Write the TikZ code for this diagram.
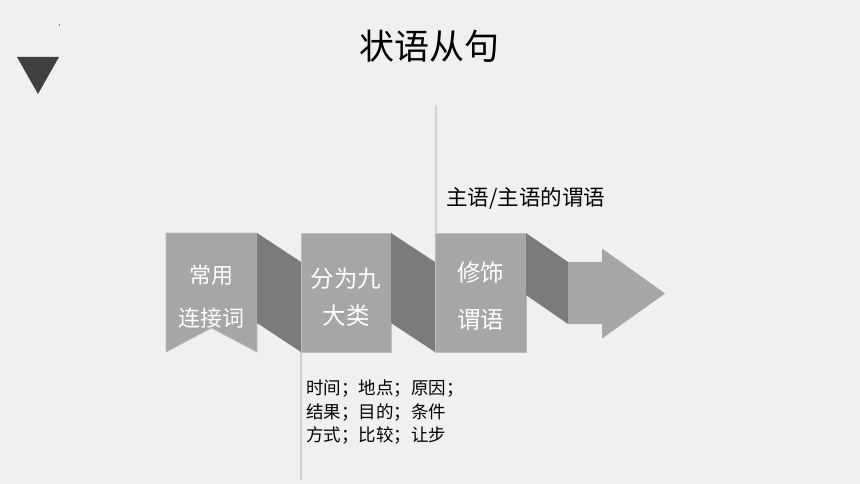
\documentclass[tikz,border=0pt]{standalone}
\usepackage{fontspec}
\setmainfont{Noto Sans CJK SC}
\usetikzlibrary{positioning}

\definecolor{bakgrund}{HTML}{F0F0F0}
\definecolor{ljusgra}{HTML}{A6A6A6}
\definecolor{morkgra}{HTML}{7B7B7B}
\definecolor{triangelgra}{HTML}{404040}
\definecolor{linjegra}{HTML}{D2D2D2}

\begin{document}
\begin{tikzpicture}[x=1pt, y=-1pt,
		ruta/.style={fill=ljusgra, draw=ljusgra!75!white, line width=0.8pt},
		veck/.style={fill=morkgra},
		hjalplinje/.style={draw=linjegra, line width=1.3pt},
		rutatext/.style={text=white, inner sep=0pt, font=\fontsize{23.5}{28}\selectfont},
		listtext/.style={anchor=base west, inner sep=0pt, font=\fontsize{17.5}{21}\selectfont}]
		\fill[bakgrund] (0, 0) rectangle (860, 484); % Bakgrunden
		\useasboundingbox (0, 0) rectangle (860, 484);
		
		\fill[triangelgra] (17, 57) -- (59, 57) -- (38, 94) -- cycle; % Triangeln
		\fill[gray] (58.6, 24.5) rectangle (59.4, 26.5);
		
		\node [inner sep=0pt, font=\fontsize{35}{40}\selectfont] (rubrik) at (429, 46) {状语从句};
		
		\draw[hjalplinje] (436, 105) -- (436, 233); % Hjälplinjer
		\draw[hjalplinje] (301, 352) -- (301, 480);
		
		\draw[ruta] (166, 233) -- (257, 233) -- (257, 352) -- (211.5, 328) -- (166, 352) -- cycle; % Första rutan
		\fill[veck] (257, 233) -- (301, 262) -- (301, 352) -- (257, 323) -- cycle;
		\draw[ruta] (301, 233) rectangle (391, 352); % Andra rutan
		\fill[veck] (391, 233) -- (435, 262) -- (435, 352) -- (391, 323) -- cycle;
		\draw[ruta] (435, 233) rectangle (526, 352); % Tredje rutan
		\fill[veck] (526, 233) -- (568, 262) -- (568, 324) -- (526, 295) -- cycle;
		\fill[ljusgra] (568, 262) -- (602, 262) -- (602, 248.5) -- (665, 293.5) -- (602, 338.5) -- (602, 324) -- (568, 324) -- cycle; % Pilen
		
		\node [rutatext, font=\fontsize{22}{26}\selectfont] (changyong) at (211.5, 275) {常用};
		\node [rutatext, font=\fontsize{22}{26}\selectfont] (lianjieci) at (211.5, 318) {连接词};
		\node [rutatext] (fenwei) at (346, 279) {分为九};
		\node [rutatext] (dalei) at (346, 316) {大类};
		\node [rutatext] (xiushi) at (480.5, 273) {修饰};
		\node [rutatext] (weiyu) at (480.5, 320) {谓语};
		
		\node [inner sep=0pt, anchor=west, font=\fontsize{21.5}{25}\selectfont] (zhuyu) at (446, 198) {主语/主语的谓语};
		
		\node [listtext] (rad1) at (306, 394.5) {时间；地点；原因；};
		\node [listtext] (rad2) at (306, 418) {结果；目的；条件};
		\node [listtext] (rad3) at (306, 441.5) {方式；比较；让步};
	\end{tikzpicture}
\end{document}
